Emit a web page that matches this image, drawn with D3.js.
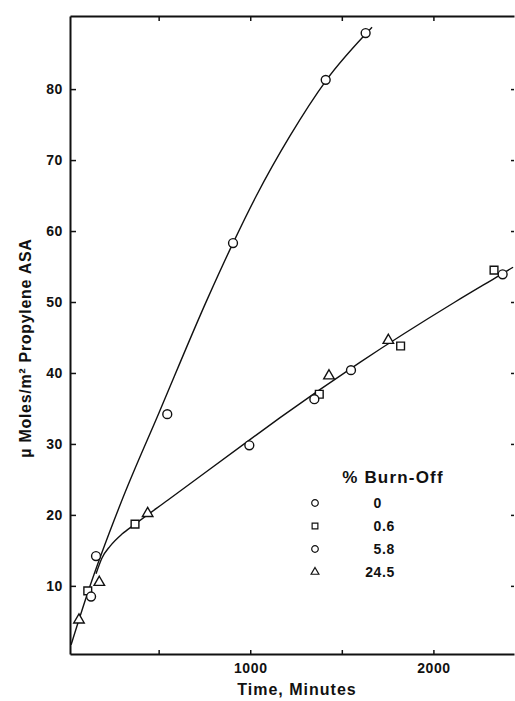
<!DOCTYPE html>
<html>
<head>
<meta charset="utf-8">
<script src="https://cdn.jsdelivr.net/npm/d3@7"></script>
<style>
  body { margin: 0; background: #fff; }
  text { font-family: "Liberation Sans", Arial, sans-serif; font-weight: bold; fill: #111; }
</style>
</head>
<body>
<svg id="chart" width="515" height="701"></svg>
<script>
// data (time in minutes, µmol/m²)
const burnLabels = ['0', '0.6', '5.8', '24.5'];
const burnShapes = ['circle', 'square', 'circle', 'triangle'];

const burn0 = [[158, 14.2], [547, 34.2], [906, 58.3], [1412, 81.3], [1630, 87.9]];
const burn06 = [[113, 9.3], [371, 18.7], [1377, 37.0], [1821, 43.8], [2331, 54.5]];
const burn58 = [[131, 8.5], [995, 29.8], [1350, 36.3], [1550, 40.4], [2378, 53.9]];
const burn245 = [[65, 5.2], [176, 10.5], [440, 20.2], [1430, 39.6], [1754, 44.6]];

// hand drawn fit curves
const upperCurve = [[22, 1.7], [115, 9.2], [300, 22.1], [502, 34.4], [764, 50.3], [906, 58.3],
    [1032, 64.9], [1217, 73.4], [1414, 81.2], [1665, 88.7]];
const lowerCurve = [[158, 11.7], [190, 13.9], [235, 15.6], [300, 17.3], [371, 18.7], [551, 22.1],
    [993, 30.5], [1163, 33.7], [1599, 41.5], [2118, 50.0], [2364, 53.8], [2435, 54.9]];

const xTicks = [500, 1000, 1500, 2000];
const xLabelTicks = [1000, 2000];
const yTicks = [10, 20, 30, 40, 50, 60, 70, 80];

const svg = d3.select('svg#chart');
const box = {left: 70, right: 514, top: 16, bottom: 654};

const xScale = d3.scaleLinear().domain([16, 2440]).range([box.left, box.right]);
const yScale = d3.scaleLinear().domain([0.4, 90.3]).range([box.bottom, box.top]);

// axes
const yAxis = d3.axisLeft(yScale).tickValues(yTicks).tickSize(-6).tickSizeOuter(0).tickPadding(7);
const xAxis = d3.axisBottom(xScale).tickValues(xTicks).tickSize(-4).tickSizeOuter(0).tickPadding(9)
    .tickFormat(d => xLabelTicks.includes(d) ? d : '');
const topAxis = d3.axisTop(xScale).tickValues(xTicks).tickSize(-5).tickSizeOuter(0).tickFormat('');
const rightAxis = d3.axisRight(yScale).tickValues(yTicks).tickSize(-3).tickSizeOuter(0).tickFormat('');

const styleAxis = g => {
    g.selectAll('.domain').attr('stroke', '#111').attr('stroke-width', 2);
    g.selectAll('.tick line').attr('stroke', '#111').attr('stroke-width', 1.5);
    g.selectAll('text').attr('font-size', 14).attr('letter-spacing', 0.6)
        .attr('font-family', '"Liberation Sans", Arial, sans-serif').attr('font-weight', 'bold');
};

svg.append('g').attr('transform', `translate(${box.left},0)`).call(yAxis).call(styleAxis);
svg.append('g').attr('transform', `translate(0,${box.bottom})`).call(xAxis).call(styleAxis);
svg.append('g').attr('transform', `translate(0,${box.top})`).call(topAxis).call(styleAxis);
const ra = svg.append('g').attr('transform', `translate(${box.right},0)`).call(rightAxis).call(styleAxis);
ra.select('.domain').remove();

// axis titles
svg.append('text')
    .attr('transform', `translate(31,348) rotate(-90)`)
    .attr('text-anchor', 'middle')
    .attr('font-size', 16)
    .attr('letter-spacing', 0.7)
    .text('µ Moles/m² Propylene ASA');

svg.append('text')
    .attr('x', 297).attr('y', 695)
    .attr('text-anchor', 'middle')
    .attr('font-size', 16)
    .attr('letter-spacing', 1)
    .text('Time, Minutes');

// curves
const line = d3.line()
    .x(d => xScale(d[0]))
    .y(d => yScale(d[1]))
    .curve(d3.curveMonotoneX);

[upperCurve, lowerCurve].forEach(c => {
    svg.append('path').datum(c)
        .attr('d', line)
        .attr('fill', 'none')
        .attr('stroke', '#111')
        .attr('stroke-width', 1.4);
});

// markers
const symbolType = {circle: d3.symbolCircle, square: d3.symbolSquare, triangle: d3.symbolTriangle};
const symbolSize = {circle: 62, square: 60, triangle: 48};
const series = [burn0, burn06, burn58, burn245];

series.forEach((data, i) => {
    const shape = burnShapes[i];
    svg.append('g').selectAll('path').data(data)
        .enter().append('path')
        .attr('transform', d => `translate(${xScale(d[0])},${yScale(d[1])})`)
        .attr('d', d3.symbol().type(symbolType[shape]).size(symbolSize[shape]))
        .attr('fill', '#fff')
        .attr('stroke', '#111')
        .attr('stroke-width', 1.4);
});

// legend
const legend = svg.append('g');
legend.append('text')
    .attr('x', 393).attr('y', 483)
    .attr('text-anchor', 'middle')
    .attr('font-size', 17)
    .attr('letter-spacing', 1.2)
    .text('% Burn-Off');

burnLabels.forEach((lab, i) => {
    const cy = 503 + i * 23;
    const shape = burnShapes[i];
    legend.append('path')
        .attr('transform', `translate(315,${cy})`)
        .attr('d', d3.symbol().type(symbolType[shape]).size(symbolSize[shape] * 0.55))
        .attr('fill', 'none')
        .attr('stroke', '#111')
        .attr('stroke-width', 1.2);
    const parts = lab.split('.');
    legend.append('text')
        .attr('x', 382).attr('y', cy + 5)
        .attr('text-anchor', 'end')
        .attr('font-size', 14)
        .attr('letter-spacing', 0.6)
        .text(parts[0]);
    if (parts[1]) {
        legend.append('text')
            .attr('x', 382).attr('y', cy + 5)
            .attr('font-size', 14)
            .attr('letter-spacing', 0.6)
            .text('.' + parts[1]);
    }
});
</script>
</body>
</html>
